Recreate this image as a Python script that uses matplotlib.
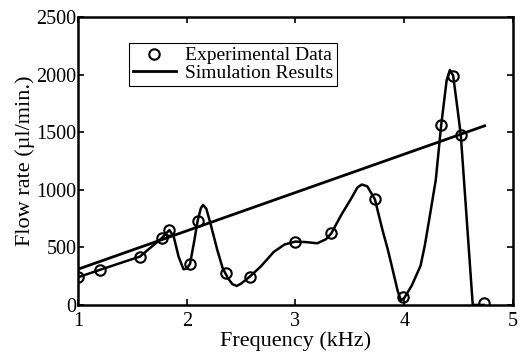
import matplotlib
matplotlib.use("Agg")
import matplotlib.pyplot as plt

# experimental points (kHz, ul/min)
exp_freq = [1.0, 1.2, 1.57, 1.77, 1.84, 2.03, 2.10, 2.36, 2.58, 3.0, 3.33, 3.73, 3.99, 4.34, 4.45, 4.52, 4.73]
exp_flow = [240, 304, 420, 579, 648, 356, 729, 280, 246, 550, 622, 920, 67, 1560, 1990, 1474, 20]

# curve traced through the data
curve_freq = [1.0, 1.2, 1.57, 1.77, 1.84, 1.88, 1.925, 1.97, 2.0, 2.03, 2.07, 2.10, 2.13, 2.15, 2.18,
              2.22, 2.28, 2.33, 2.38, 2.42, 2.46, 2.50, 2.58, 2.68, 2.80, 2.90, 3.0, 3.1, 3.2, 3.28,
              3.33, 3.42, 3.51, 3.57, 3.61, 3.66, 3.73, 3.80, 3.85, 3.90, 3.94, 3.97, 4.0, 4.07,
              4.15, 4.19, 4.24, 4.29, 4.34, 4.39, 4.42, 4.45, 4.49, 4.52, 4.575, 4.63, 4.73]
curve_flow = [240, 304, 420, 579, 650, 593, 419, 310, 315, 356, 560, 729, 840, 868, 835,
              700, 480, 320, 230, 180, 165, 185, 246, 333, 460, 525, 550, 545, 535, 570,
              622, 780, 920, 1020, 1045, 1030, 917, 650, 477, 280, 120, 40, 60, 170,
              340, 520, 800, 1085, 1562, 1950, 2040, 1990, 1700, 1476, 740, 0, 0]

# simulation line
sim_freq = [1.0, 4.74]
sim_flow = [310, 1555]

plt.rcParams['font.family'] = ['Liberation Serif', 'DejaVu Serif']

fig = plt.figure(figsize=(5.2, 3.6), dpi=100)
ax = fig.add_axes([0.15, 0.153, 0.8365, 0.80])

ax.plot(curve_freq, curve_flow, color='black', lw=1.8)
ax.plot(exp_freq, exp_flow, 'o', mfc='none', mec='black', mew=1.5, ms=7.5,
        label='Experimental Data')
ax.plot(sim_freq, sim_flow, color='black', lw=2.0, label='Simulation Results')

ax.set_xlim(1, 5)
ax.set_ylim(0, 2500)
ax.set_xticks([1, 2, 3, 4, 5])
ax.set_yticks([0, 500, 1000, 1500, 2000, 2500])
ax.tick_params(direction='in', top=True, right=True, labelsize=14.5, width=1.2, length=4)
ax.tick_params(axis='x', pad=5)
ax.tick_params(axis='y', pad=1)
for s in ax.spines.values():
    s.set_linewidth(1.8)

ax.set_xlabel('Frequency (kHz)', fontsize=16, labelpad=0)
ax.set_ylabel('Flow rate (\u00b5l/min.)', fontsize=16, labelpad=1)

leg = ax.legend(loc='upper left', bbox_to_anchor=(0.117, 0.91), borderaxespad=0,
                fontsize=14, fancybox=False, framealpha=1, edgecolor='black',
                handlelength=2.2, borderpad=0.2, labelspacing=0.0, handletextpad=0.5)
leg.get_frame().set_linewidth(0.8)

fig.savefig('out.png', dpi=100)
plt.close()
